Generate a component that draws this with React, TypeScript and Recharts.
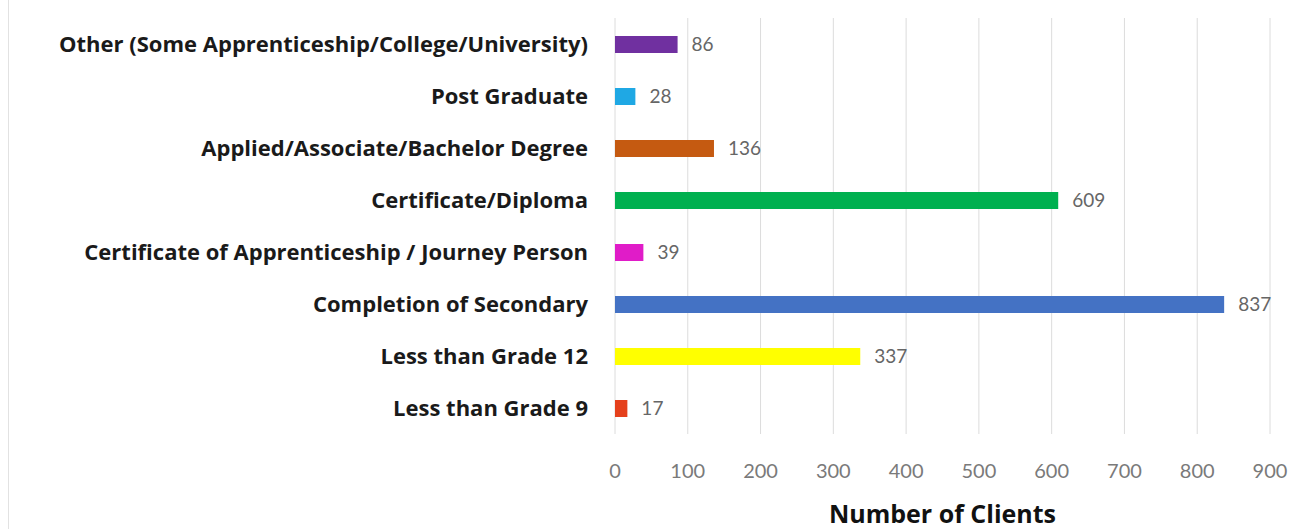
import { Bar, BarChart, CartesianGrid, Cell, LabelList, XAxis, YAxis } from 'recharts';

const categories = [
	'Other (Some Apprenticeship/College/University)',
	'Post Graduate',
	'Applied/Associate/Bachelor Degree',
	'Certificate/Diploma',
	'Certificate of Apprenticeship / Journey Person',
	'Completion of Secondary',
	'Less than Grade 12',
	'Less than Grade 9',
];

const clients = [86, 28, 136, 609, 39, 837, 337, 17];

const barColors = ['#7030A0', '#1FA8E4', '#C55A11', '#00B050', '#E01CC8', '#4472C4', '#FFFF00', '#E5401C'];

const xTicks = [0, 100, 200, 300, 400, 500, 600, 700, 800, 900];

const data = categories.map((name, i) => ({ name, clients: clients[i] }));

const LABEL_FONT = '"Open Sans", Lato, sans-serif';
const NUM_FONT = 'Lato, "Open Sans", sans-serif';

export default function App() {
	return (
		<div style={{ position: 'absolute', left: 0, top: 0, width: 1290, height: 529, background: '#fff' }}>
			<div style={{ position: 'absolute', left: 8, top: 0, width: 1, height: 529, background: '#e2e2e2' }} />
			<BarChart
				width={1290}
				height={529}
				data={data}
				layout="vertical"
				margin={{ top: 18, right: 20, bottom: 0, left: 0 }}
			>
				<CartesianGrid stroke="#dcdcdc" vertical horizontal={false} />
				<XAxis
					type="number"
					domain={[0, 900]}
					ticks={xTicks}
					height={95}
					axisLine={false}
					tickLine={false}
					tickMargin={24}
					tick={{ fill: '#7a7a7a', fontSize: 20, fontFamily: NUM_FONT }}
					label={{
						value: 'Number of Clients',
						position: 'insideBottom',
						offset: 6,
						style: { fill: '#111', fontSize: 25, fontWeight: 700, fontFamily: LABEL_FONT },
					}}
				/>
				<YAxis
					type="category"
					dataKey="name"
					width={615}
					axisLine={false}
					tickLine={false}
					tickSize={0}
					tickMargin={27}
					tick={{ fill: '#1a1a1a', fontSize: 22, fontWeight: 700, fontFamily: LABEL_FONT }}
				/>
				<Bar dataKey="clients" barSize={17} isAnimationActive={false}>
					{data.map((d, i) => (
						<Cell key={d.name} fill={barColors[i]} />
					))}
					<LabelList
						dataKey="clients"
						position="right"
						offset={14}
						style={{ fill: '#666', fontSize: 19, fontFamily: NUM_FONT }}
					/>
				</Bar>
			</BarChart>
		</div>
	);
}
